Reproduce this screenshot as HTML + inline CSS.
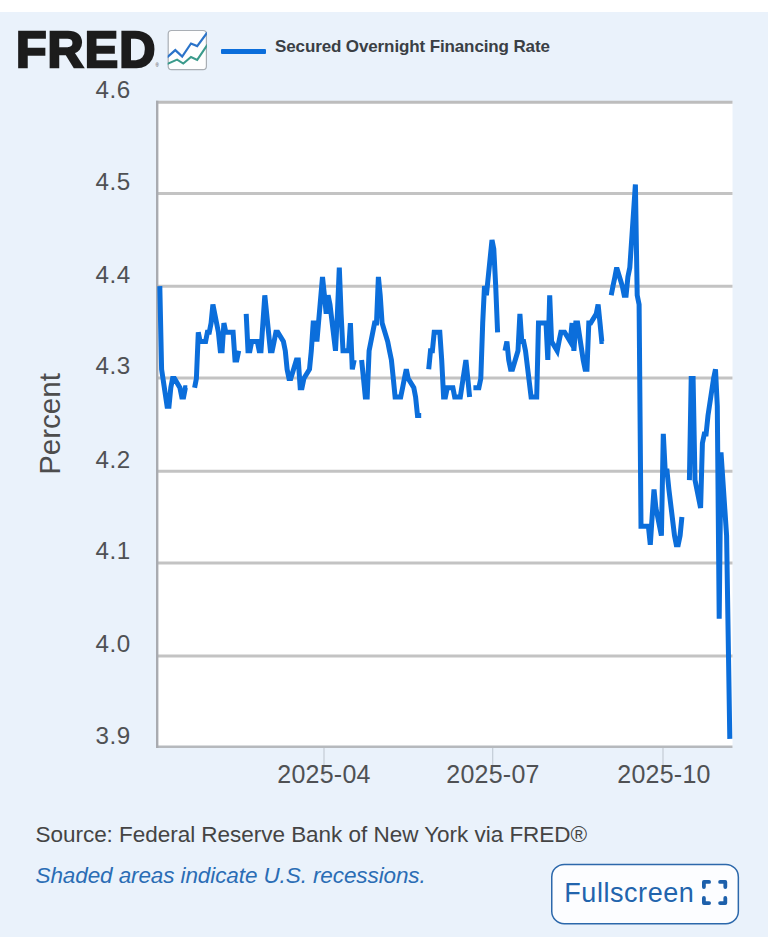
<!DOCTYPE html>
<html>
<head>
<meta charset="utf-8">
<title>FRED - Secured Overnight Financing Rate</title>
<style>
  html, body { margin: 0; padding: 0; }
  body {
    width: 768px; height: 937px; overflow: hidden; position: relative;
    background: #ffffff;
    font-family: "Liberation Sans", sans-serif;
  }
  .panel { position: absolute; left: 0; top: 12px; width: 768px; height: 925px; background: #eaf2fb; }
  .abs { position: absolute; white-space: nowrap; }
  .logo {
    left: 15.9px; top: 22px; font-size: 50px; font-weight: bold; color: #1c1c1c;
    letter-spacing: 1.1px; line-height: 56px; -webkit-text-stroke: 2.4px #1c1c1c;
  }
  .logo-r { left: 155.6px; top: 63px; font-size: 4.5px; color: #444; line-height: 6px; }
  .legend-text { left: 275px; top: 36.7px; font-size: 17px; font-weight: bold; color: #3a3f45; line-height: 20px; letter-spacing: -0.12px; }
  .ylab { font-size: 24.2px; color: #4f5154; line-height: 26px; width: 60px; text-align: right; left: 70.7px; letter-spacing: 0.5px; }
  .xlab { font-size: 25px; color: #4f5154; line-height: 28px; width: 120px; text-align: center; top: 760.3px; letter-spacing: 0.25px; }
  .percent {
    left: 49.5px; top: 424.2px; font-size: 29.5px; color: #4d4d4d; line-height: 30px;
    transform: translate(-50%, -50%) rotate(-90deg);
  }
  .source { left: 35.5px; top: 820.5px; font-size: 22.5px; color: #444; line-height: 28px; letter-spacing: -0.03px; }
  .note { left: 35.5px; top: 862px; font-size: 22.5px; color: #2a6db5; font-style: italic; line-height: 28px; letter-spacing: -0.1px; }
  .fsbtn {
    left: 551px; top: 863px; width: 185px; height: 59px; border: 1.5px solid #2f6fb3; border-radius: 13px;
    background: #fbfdff; box-sizing: content-box;
  }
  .fstext { left: 564.3px; top: 877px; font-size: 27px; color: #2264ad; line-height: 32px; letter-spacing: 0.55px; }
</style>
</head>
<body>
<div class="panel"></div>

<div class="abs logo">FRED</div>
<div class="abs logo-r">&#174;</div>

<!-- chart icon -->
<svg class="abs" style="left:166px;top:28px" width="44" height="46" viewBox="0 0 44 46">
  <defs><clipPath id="ic"><rect x="1.7" y="2" width="39.2" height="40.2" rx="3.6"/></clipPath></defs>
  <rect x="2.2" y="2.5" width="38.2" height="39.2" rx="3.4" fill="#fefefe" stroke="#a9aeb4" stroke-width="1.2"/>
  <g clip-path="url(#ic)" fill="none" stroke-linejoin="miter">
    <polyline points="1,29.5 9.3,22.1 16.2,28.6 25,15.5 31.2,18.1 41.5,4.2" stroke="#2a73c9" stroke-width="2.2"/>
    <polyline points="1,36 11.1,31.6 17.3,35.6 25,29 31.2,31.9 41.5,16.6" stroke="#3a9a8b" stroke-width="2"/>
  </g>
</svg>

<!-- legend -->
<div class="abs" style="left:220.5px;top:49.2px;width:45px;height:5px;background:#0b6edb;border-radius:1px"></div>
<div class="abs legend-text">Secured Overnight Financing Rate</div>

<!-- chart -->
<svg class="abs" style="left:0;top:0" width="768" height="937" viewBox="0 0 768 937">
  <rect x="157" y="101.5" width="575.5" height="646" fill="#ffffff"/>
  <g stroke="#c3c3c3" stroke-width="3">
    <line x1="157" x2="732.5" y1="193.5" y2="193.5"/>
    <line x1="157" x2="732.5" y1="286.3" y2="286.3"/>
    <line x1="157" x2="732.5" y1="378" y2="378"/>
    <line x1="157" x2="732.5" y1="471.2" y2="471.2"/>
    <line x1="157" x2="732.5" y1="563" y2="563"/>
    <line x1="157" x2="732.5" y1="656" y2="656"/>
  </g>
  <line x1="156" x2="732.5" y1="102.3" y2="102.3" stroke="#bdbdbd" stroke-width="3"/>
  <line x1="156" x2="732.5" y1="746.8" y2="746.8" stroke="#b6b9bd" stroke-width="2.6"/>
  <line x1="157.2" x2="157.2" y1="100.8" y2="748.1" stroke="#a9abb0" stroke-width="2.4"/>
  <g stroke="#c4ccd6" stroke-width="1.2">
    <line x1="324" x2="324" y1="748" y2="776"/>
    <line x1="492.7" x2="492.7" y1="748" y2="776"/>
    <line x1="663" x2="663" y1="748" y2="776"/>
  </g>
  <rect x="551.75" y="864.4" width="186.6" height="59.3" rx="12.5" fill="#fcfdff" stroke="#2c68ab" stroke-width="1.5"/>
  <path d="M159.8 286.1L161.6 369.3L167.1 406.2L169.0 406.2L170.8 387.7L172.6 378.5L174.5 378.5L179.9 387.7L181.8 397.0L183.6 397.0L185.4 387.7L187.3 387.7 M194.6 387.7L196.4 378.5L198.3 332.3L200.1 341.5L205.6 341.5L207.4 332.3L209.3 332.3L211.1 323.1L212.9 304.6L218.4 332.3L220.3 350.8L222.1 350.8L223.9 323.1L225.8 332.3L231.3 332.3L233.1 332.3L235.0 360.0L236.8 360.0L238.7 350.8 M246.2 313.8L248.0 350.8L249.9 350.8L251.7 341.5L257.3 341.5L259.2 350.8L261.0 350.8L262.9 323.1L264.8 295.3L270.4 350.8L272.2 350.8L274.1 341.5L275.9 332.3L277.8 332.3L283.4 341.5L285.3 350.8L287.1 369.3L289.0 378.5L290.8 378.5L296.4 360.0L298.3 360.0L300.2 387.7L302.0 387.7L303.9 378.5L309.5 369.3L311.3 350.8L313.2 323.1L315.1 323.1L316.9 341.5L322.5 276.9L324.4 295.3L326.2 313.8L328.1 295.3L330.0 304.6L335.5 350.8L337.4 313.8L339.3 267.6L341.1 313.8L343.0 350.8L348.6 350.8L350.4 323.1L352.3 369.3L354.2 360.0 M361.6 360.0L363.5 378.5L365.3 397.0L367.2 397.0L369.1 350.8L374.6 323.1L376.5 323.1L378.4 276.9L380.2 295.3L382.1 323.1L387.7 341.5L389.5 350.8L391.4 360.0L393.3 378.5L395.1 397.0L400.7 397.0L402.6 387.7L404.4 378.5L406.3 369.3L408.2 378.5L413.8 387.7L415.6 397.0L417.5 415.5L419.3 415.5L421.2 415.5 M428.7 369.3L430.5 350.8L432.4 350.8L434.2 332.3L439.8 332.3L441.7 360.0L443.6 397.0L445.4 397.0L447.3 387.7L452.9 387.7L454.7 397.0L456.6 397.0L458.5 397.0L460.3 397.0L465.9 360.0L467.8 378.5L469.6 397.0 M473.4 387.7L478.9 387.7L480.8 378.5L482.7 323.1L484.5 286.1L486.4 295.3L492.0 239.9L493.8 249.1L495.7 286.1L497.6 332.3 M505.0 350.8L506.9 341.5L508.7 360.0L510.6 369.3L512.5 369.3L518.0 350.8L519.9 313.8L521.8 341.5L523.6 341.5L525.5 350.8L531.1 397.0L532.9 397.0L534.8 397.0L536.7 397.0L538.5 323.1L544.1 323.1L546.0 323.1L547.8 360.0L549.7 295.3L551.6 341.5L557.2 350.8L559.0 341.5L560.9 332.3L562.7 332.3L564.6 332.3L570.2 341.5L572.1 323.1L573.9 350.8L575.8 323.1L577.6 323.1L583.2 360.0L585.1 369.3L587.0 369.3L588.8 323.1L590.7 323.1L596.3 313.8L598.1 304.6L600.0 323.1L601.8 341.5L603.7 341.5 M611.2 295.3L613.0 286.1L614.9 276.9L616.7 267.6L622.3 286.1L624.2 295.3L626.1 295.3L627.9 276.9L629.8 267.6L635.4 184.5L637.2 295.3L639.1 304.6L641.0 526.3L642.8 526.3L648.4 526.3L650.3 544.8L652.1 517.1L654.0 489.4L655.9 507.9L661.4 535.6L663.3 433.9L665.2 470.9L667.0 470.9L668.9 489.4L674.5 535.6L676.3 544.8L678.2 544.8L680.1 535.6L681.9 517.1 M689.4 480.1L691.2 378.5L693.1 378.5L695.0 480.1L700.6 507.9L702.4 443.2L704.3 433.9L706.1 433.9L708.0 415.5L713.6 378.5L715.5 369.3L717.3 406.2L719.2 618.7L721.0 452.4L726.6 535.6L728.5 655.7L729.8 738.9" fill="none" stroke="#0b6edb" stroke-width="5" stroke-linejoin="miter" stroke-miterlimit="4" stroke-linecap="butt"/>
</svg>

<!-- y labels -->
<div class="abs ylab" style="top:76.6px">4.6</div>
<div class="abs ylab" style="top:168.9px">4.5</div>
<div class="abs ylab" style="top:261.7px">4.4</div>
<div class="abs ylab" style="top:353.3px">4.3</div>
<div class="abs ylab" style="top:446.5px">4.2</div>
<div class="abs ylab" style="top:538.3px">4.1</div>
<div class="abs ylab" style="top:631.3px">4.0</div>
<div class="abs ylab" style="top:723.3px">3.9</div>

<div class="abs percent">Percent</div>

<!-- x labels -->
<div class="abs xlab" style="left:264px">2025-04</div>
<div class="abs xlab" style="left:433px">2025-07</div>
<div class="abs xlab" style="left:604px">2025-10</div>

<div class="abs source">Source: Federal Reserve Bank of New York via FRED&#174;</div>
<div class="abs note">Shaded areas indicate U.S. recessions.</div>

<div class="abs fstext">Fullscreen</div>
<svg class="abs" style="left:701.6px;top:880.1px" width="26" height="26" viewBox="0 0 26 26">
  <g fill="none" stroke="#1d60ab" stroke-width="3.8" stroke-linecap="round" stroke-linejoin="round">
    <path d="M1.9 7.1 V1.9 H7.1"/>
    <path d="M18.1 1.9 H23.3 V7.1"/>
    <path d="M23.3 17.9 V23.1 H18.1"/>
    <path d="M7.1 23.1 H1.9 V17.9"/>
  </g>
</svg>
</body>
</html>
